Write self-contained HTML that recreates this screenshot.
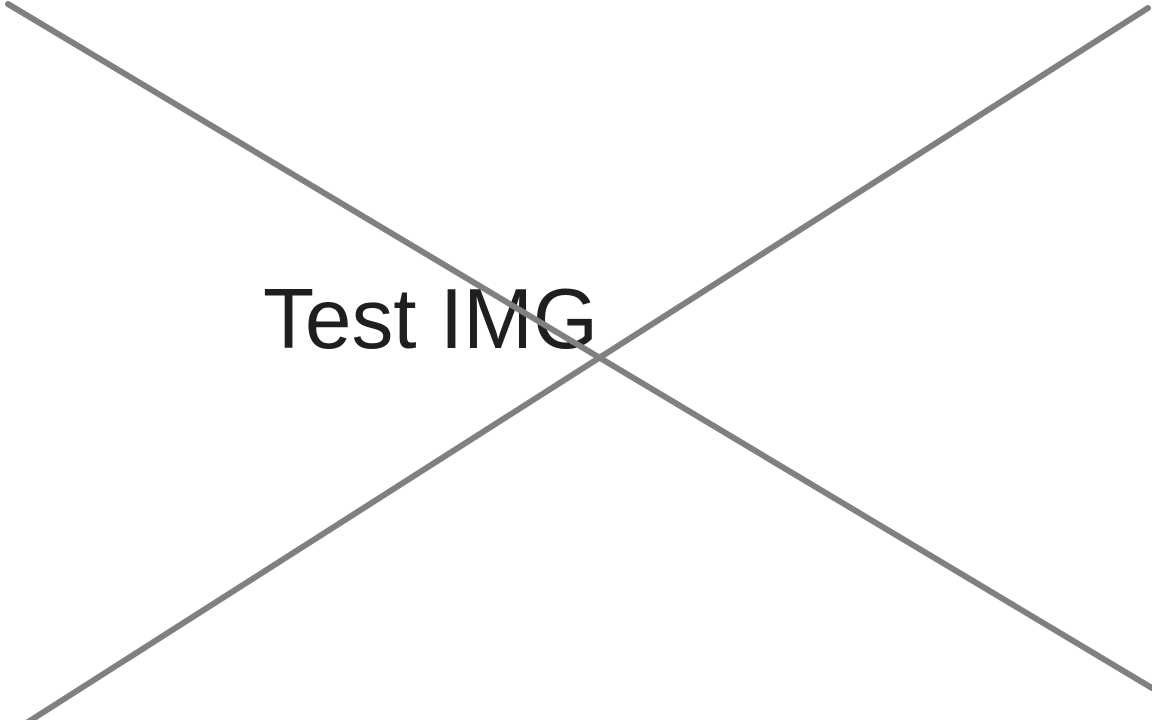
<!DOCTYPE html>
<html>
<head>
<meta charset="utf-8">
<style>
  html,body{margin:0;padding:0;background:#fff;}
  svg{display:block;}
</style>
</head>
<body>
<svg width="1152" height="720" viewBox="0 0 1152 720">
  <rect x="0" y="0" width="1152" height="720" fill="#ffffff"/>
  <line x1="28" y1="722" x2="1148" y2="8" stroke="#808080" stroke-width="6" stroke-linecap="round"/>
  <text x="263" y="348" font-family="'Liberation Sans', sans-serif" font-size="85" fill="#1f1f1f" textLength="335" lengthAdjust="spacingAndGlyphs">Test IMG</text>
  <line x1="8" y1="4" x2="1152" y2="688" stroke="#808080" stroke-width="6" stroke-linecap="round"/>
</svg>
</body>
</html>
